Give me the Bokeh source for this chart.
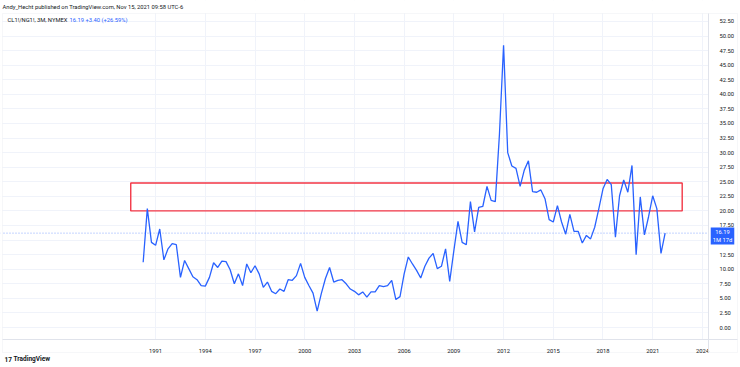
from bokeh.plotting import figure
from bokeh.models import FixedTicker, CustomJSTickFormatter, Span, Label, Range1d, BoxAnnotation
from bokeh.embed import file_html
from bokeh.resources import INLINE

# ---- data (quarterly closes of CL1!/NG1!, first bar = 1990 Q2) ----
start_year = 1990
start_quarter = 2
ratio = [
    11.2, 20.4, 14.6,            # 1990 Q2-Q4
    14.1, 16.9, 11.6, 13.5,      # 1991
    14.4, 14.2, 8.6, 11.5,       # 1992
    10.1, 8.7, 8.2, 7.2,         # 1993
    7.1, 8.6, 11.1, 10.3,        # 1994
    11.4, 11.3, 9.9, 7.5,        # 1995
    9.2, 7.2, 10.9, 9.4,         # 1996
    10.6, 9.2, 6.9, 7.8,         # 1997
    6.2, 5.8, 6.6, 6.2,          # 1998
    8.2, 8.1, 8.9, 11.0,         # 1999
    8.6, 7.2, 5.9, 2.8,          # 2000
    5.8, 8.4, 10.3, 7.8,         # 2001
    8.1, 8.2, 7.5, 6.6,          # 2002
    6.2, 5.6, 6.1, 5.2,          # 2003
    6.1, 6.1, 7.2, 7.0,          # 2004
    7.2, 8.1, 4.8, 5.3,          # 2005
    9.2, 12.1, 10.9, 9.8,        # 2006
    8.5, 10.5, 11.9, 12.7,       # 2007
    10.1, 10.5, 13.5, 7.9,       # 2008
    13.2, 18.2, 14.6, 14.2,      # 2009
    21.6, 16.4, 20.6, 20.8,      # 2010
    24.2, 21.8, 21.6, 33.1,      # 2011
    48.4, 30.0, 27.7, 27.3,      # 2012
    24.2, 27.0, 28.6, 23.3,      # 2013
    23.2, 23.6, 22.1, 18.5,      # 2014
    18.1, 20.9, 18.1, 16.0,      # 2015
    19.4, 16.5, 16.5, 14.5,      # 2016
    15.8, 15.2, 17.2, 20.4,      # 2017
    23.8, 25.4, 24.5, 15.5,      # 2018
    22.6, 25.3, 23.2, 27.8,      # 2019
    12.5, 22.4, 15.9, 19.0,      # 2020
    22.6, 20.4, 12.7, 16.19,     # 2021
]
year_ticks = [1991, 1994, 1997, 2000, 2003, 2006, 2009, 2012, 2015, 2018, 2021, 2024]
price_ticks = [0, 2.5, 5, 7.5, 10, 12.5, 15, 17.5, 20, 22.5, 25, 27.5, 30, 32.5,
               35, 37.5, 40, 42.5, 45, 47.5, 50, 52.5]
zone_x = [1989.5, 2022.78]
zone_y = [20.0, 24.8]
last_value = 16.19
last_change = "+3.40 (+26.59%)"
countdown = "1M 17d"
header = "Andy_Hecht published on TradingView.com, Nov 15, 2021 09:58 UTC-6"
symbol = "CL1!/NG1!, 3M, NYMEX"

t = [start_year + (start_quarter - 1) * 0.25 + i * 0.25 for i in range(len(ratio))]

FONT = "Roboto"
BLUE = "#2962ff"
TXT = "#131722"
GRID = "#f0f3fa"
EDGE = "#e0e3eb"
W, H = 740, 367

# the frame covers the whole canvas; map canvas pixels <-> data
X0 = 1991 - 155.1 / 16.57
X1 = X0 + W / 16.57
Y1 = 327 / 5.829
Y0 = Y1 - H / 5.829


def px_x(px):
    return X0 + px * (X1 - X0) / W


def px_y(py):
    return Y1 - py * (Y1 - Y0) / H


p = figure(width=W, height=H, output_backend="svg", toolbar_location=None,
           x_range=Range1d(X0, X1), y_range=Range1d(Y0, Y1),
           y_axis_location="right",
           min_border_left=0, min_border_top=0, min_border_right=0, min_border_bottom=0)
p.background_fill_color = "white"
p.border_fill_color = "white"
p.outline_line_color = None

p.xaxis.ticker = FixedTicker(ticks=year_ticks)
p.xaxis.formatter = CustomJSTickFormatter(code="return tick.toFixed(0);")
p.yaxis.ticker = FixedTicker(ticks=price_ticks)
p.yaxis.formatter = CustomJSTickFormatter(code="return tick == 15 ? '' : tick.toFixed(2);")
p.xaxis.fixed_location = px_y(339)
p.yaxis.fixed_location = px_x(708)
p.xaxis.bounds = (px_x(2), px_x(737))
p.yaxis.bounds = (px_y(352), px_y(13))
for ax in (p.xaxis[0], p.yaxis[0]):
    ax.major_tick_line_color = None
    ax.minor_tick_line_color = None
    ax.axis_line_color = EDGE
    ax.major_label_text_font = FONT
    ax.major_label_text_font_size = "5.8px"
    ax.major_label_text_color = TXT
p.xaxis.major_label_standoff = 3
p.yaxis.major_label_standoff = 5

p.xgrid.grid_line_color = GRID
p.ygrid.grid_line_color = GRID

p.add_layout(Span(location=last_value, dimension="width", line_color=BLUE,
                  line_alpha=0.55, line_dash="1 2", line_width=1, level="underlay"))

# hide grid outside the price pane
for kw in (dict(left=px_x(708)), dict(bottom=px_y(13)), dict(top=px_y(339)), dict(right=px_x(2))):
    p.add_layout(BoxAnnotation(fill_color="white", fill_alpha=1, line_color=None,
                               level="underlay", **kw))
p.add_layout(BoxAnnotation(left=px_x(2), right=px_x(737), top=px_y(13), bottom=px_y(352),
                           fill_alpha=0, line_color=EDGE, line_width=1, level="underlay"))

p.quad(left=[zone_x[0]], right=[zone_x[1]], bottom=[zone_y[0]], top=[zone_y[1]],
       fill_color=None, line_color="#f23645", line_width=1.4)

p.line(t, ratio, line_color=BLUE, line_width=1.3)

# texts
p.add_layout(Label(x=px_x(2), y=px_y(6), text=header, text_font=FONT, text_font_size="5.8px",
                   text_color=TXT, text_baseline="middle", text_align="left"))
p.add_layout(Label(x=px_x(7), y=px_y(19), text=symbol, text_font=FONT, text_font_size="5.8px",
                   text_color=TXT, text_baseline="middle", text_align="left"))
p.add_layout(Label(x=px_x(69), y=px_y(19), text="%.2f %s" % (last_value, last_change),
                   text_font=FONT, text_font_size="5.8px",
                   text_color=BLUE, text_baseline="middle", text_align="left"))
p.add_layout(Label(x=px_x(722), y=px_y(235.5),
                   text="%.2f\n%s" % (last_value, countdown), text_font=FONT, text_font_size="5.8px",
                   text_color="white", text_baseline="middle", text_align="center",
                   background_fill_color=BLUE, padding=2))
p.add_layout(Label(x=px_x(13), y=px_y(358.5), text="TradingView", text_font=FONT,
                   text_font_size="6.5px", text_font_style="bold",
                   text_color=TXT, text_baseline="middle", text_align="left"))
p.add_layout(Label(x=px_x(4), y=px_y(358.5), text="17", text_font=FONT,
                   text_font_size="6.5px", text_font_style="bold",
                   text_color=TXT, text_baseline="middle", text_align="left"))

open("out.html", "w").write(file_html(p, INLINE))
